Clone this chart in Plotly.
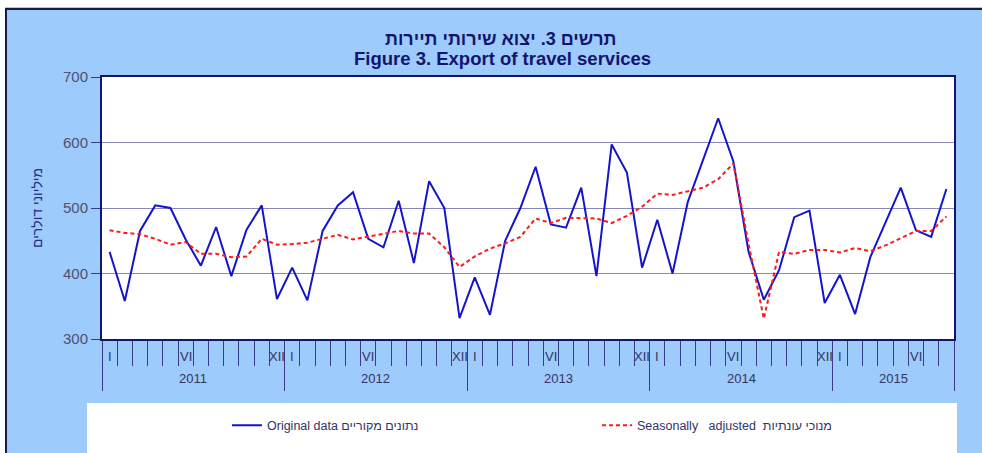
import plotly.graph_objects as go

years = ["2011", "2012", "2013", "2014", "2015"]
months_per_year = [12, 12, 12, 12, 8]
month_labels = {0: "I", 5: "VI", 11: "XII"}

original = [433, 358, 465, 504, 500, 452, 412, 471, 396, 467, 504, 361,
            409, 359, 465, 504, 524, 453, 440, 511, 416, 541, 500, 332,
            394, 337, 450, 500, 563, 475, 470, 531, 396, 597, 554, 409,
            482, 400, 509, 572, 637, 571, 433, 360, 405, 486, 496, 355,
            398, 338, 425, 478, 531, 466, 456, 529]

seasonal = [466, 462, 460, 453, 444, 448, 430, 430, 425, 426, 453, 444,
            445, 447, 453, 459, 452, 456, 461, 465, 461, 461, 440, 410,
            426, 438, 446, 456, 484, 477, 485, 485, 484, 477, 488, 502,
            522, 520, 525, 531, 544, 568, 445, 331, 433, 430, 436, 436,
            432, 439, 434, 443, 454, 465, 465, 487]

title_he = "תרשים 3. יצוא שירותי תיירות"
title_en = "Figure 3. Export of travel services"
ytitle = "מיליוני דולרים"
name_orig = "Original data נתונים מקוריים"
name_sa = "Seasonally   adjusted  מנוכי עונתיות"

n = len(original)
x = list(range(n))

NAVY = "#14146e"
TXT = "#333366"
BG = "#9dcbfb"
FONT = "Liberation Sans, Arial"

W, H = 977, 446
L, T, PW, PH = 97, 70, 852, 266
R = W - L - PW
B = H - T - PH


def px(xp):
    return (xp - L) / PW


def py(yp):
    return 1 - (yp - T) / PH


fig = go.Figure()
fig.add_trace(go.Scatter(x=x, y=original, mode="lines", name=name_orig,
                         line=dict(color="#1414cc", width=2)))
fig.add_trace(go.Scatter(x=x, y=seasonal, mode="lines", name=name_sa,
                         line=dict(color="#ff1a1a", width=2, dash="4px,3px")))

bounds = [-0.5]
for m in months_per_year:
    bounds.append(bounds[-1] + m)

annotations = []
idx = 0
for yi, m in enumerate(months_per_year):
    for k in range(m):
        if k in month_labels:
            annotations.append(dict(x=idx + k, y=py(354), xref="x", yref="paper",
                                    text=month_labels[k], showarrow=False,
                                    font=dict(size=13, color=TXT, family=FONT),
                                    yanchor="middle", xanchor="center"))
    annotations.append(dict(x=(bounds[yi] + bounds[yi + 1]) / 2, y=py(376),
                            xref="x", yref="paper", text=years[yi], showarrow=False,
                            font=dict(size=13, color=TXT, family=FONT),
                            yanchor="middle", xanchor="center"))
    idx += m

annotations.append(dict(x=px(32), y=0.5, xref="paper", yref="paper", text=ytitle,
                        textangle=-90, showarrow=False, xanchor="center",
                        yanchor="middle",
                        font=dict(size=14, color="#2a2a8a", family=FONT)))
annotations.append(dict(x=px(496), y=py(31), xref="paper", yref="paper",
                        text="<b>" + title_he + "</b>", showarrow=False,
                        xanchor="center", yanchor="middle",
                        font=dict(size=18, color=NAVY, family=FONT)))
annotations.append(dict(x=px(497), y=py(51), xref="paper", yref="paper",
                        text="<b>" + title_en + "</b>", showarrow=False,
                        xanchor="center", yanchor="middle",
                        font=dict(size=18.5, color=NAVY, family=FONT)))

fig.update_layout(
    width=W, height=H,
    paper_bgcolor=BG, plot_bgcolor="white",
    margin=dict(l=L, r=R, t=T, b=B),
    xaxis=dict(range=[-0.5, n - 0.5], showgrid=False, zeroline=False,
               showline=True, mirror=True, linecolor=NAVY, linewidth=2,
               tickmode="array", tickvals=bounds, ticks="outside", ticklen=50,
               tickcolor="#3a3a8a", tickwidth=1, showticklabels=False,
               minor=dict(ticks="outside", ticklen=25, tickmode="linear",
                          tick0=-0.5, dtick=1, tickcolor="#3a3a8a", tickwidth=1,
                          showgrid=False)),
    yaxis=dict(range=[300, 700], tickvals=[300, 400, 500, 600, 700],
               showgrid=True, gridcolor="#8888bb", gridwidth=1, zeroline=False,
               showline=True, mirror=True, linecolor=NAVY, linewidth=2,
               ticks="outside", ticklen=9, tickcolor="#3a3a8a",
               tickfont=dict(size=15, color="#505070", family=FONT)),
    legend=dict(orientation="h", x=px(222), xanchor="left", y=py(424),
                yanchor="middle", bgcolor="rgba(0,0,0,0)",
                entrywidth=325, entrywidthmode="pixels",
                font=dict(size=12.5, color=TXT, family=FONT)),
    shapes=[
        dict(type="rect", xref="paper", yref="paper",
             x0=px(82), x1=px(952), y0=py(401), y1=py(470),
             fillcolor="white", line=dict(width=0), layer="below"),
        dict(type="rect", xref="paper", yref="paper",
             x0=px(1), x1=px(W + 20), y0=py(H + 20), y1=py(1),
             fillcolor="rgba(0,0,0,0)", line=dict(width=2, color="#1a1a4a"),
             layer="above"),
    ],
    annotations=annotations,
    showlegend=True,
)

fig.write_html(
    "out.html",
    post_script=("document.body.style.margin='7px 0 0 5px';"
                 "document.body.style.overflow='hidden';"
                 "document.documentElement.style.overflow='hidden';"),
)
